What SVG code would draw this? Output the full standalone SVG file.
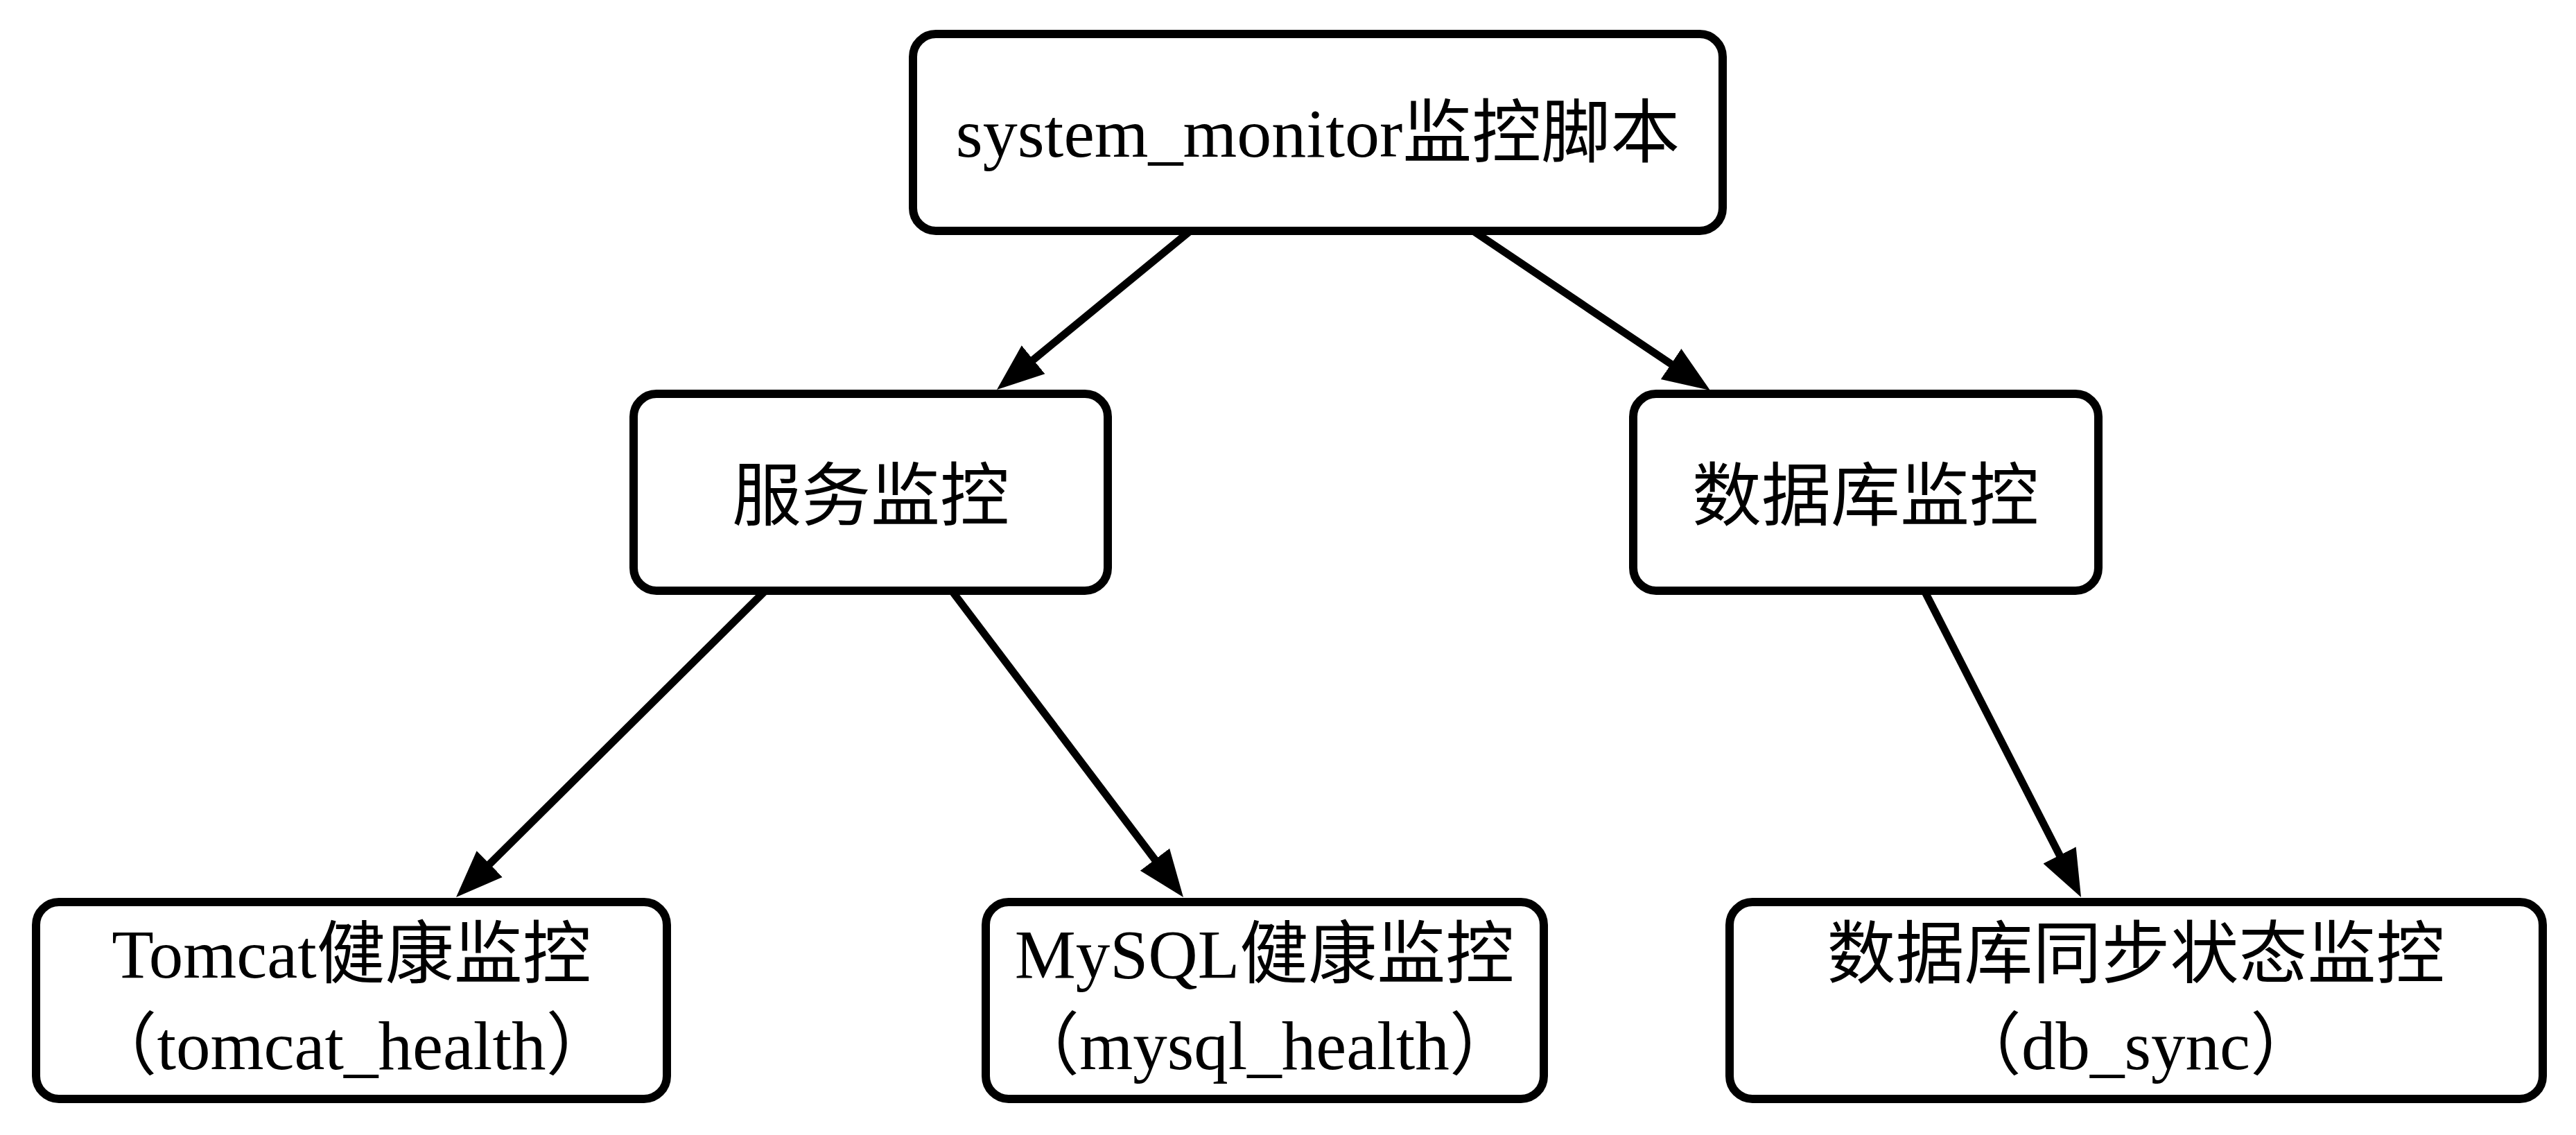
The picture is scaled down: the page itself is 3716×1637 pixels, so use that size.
<svg xmlns="http://www.w3.org/2000/svg" width="3716" height="1637" viewBox="0 0 3716 1637">
  <style>
    .box { fill: #ffffff; stroke: #000000; stroke-width: 12; }
    .edge { fill: none; stroke: #000000; stroke-width: 11; }
    .lbl { font-family: "Liberation Serif", "Noto Sans CJK SC", serif; fill: #000000; text-anchor: middle; }
    .big { font-size: 100px; }
    .small { font-size: 99px; }
  </style>
  <defs>
    <marker id="arrow" markerUnits="userSpaceOnUse" markerWidth="80" markerHeight="60" viewBox="0 -30 80 60" refX="8" refY="0" orient="auto">
      <path d="M0,-26.5 L68,0 L0,26.5 Z" fill="#000000"/>
    </marker>
  </defs>
  <rect width="3716" height="1637" fill="#ffffff"/>

  <g id="connectors">
    <line class="edge" x1="1717" y1="333" x2="1484.4" y2="523.9" marker-end="url(#arrow)"/>
    <line class="edge" x1="2125" y1="333" x2="2417.2" y2="529.5" marker-end="url(#arrow)"/>
    <line class="edge" x1="1104" y1="852" x2="700.6" y2="1251.8" marker-end="url(#arrow)"/>
    <line class="edge" x1="1373" y1="852" x2="1670.8" y2="1246.1" marker-end="url(#arrow)"/>
    <line class="edge" x1="2776" y1="852" x2="2974.7" y2="1240.6" marker-end="url(#arrow)"/>
  </g>

  <g id="node-root">
    <rect class="box" x="1317" y="49" width="1168" height="284" rx="33" ry="33"/>
    <text class="lbl big" x="1901" y="226">system_monitor监控脚本</text>
  </g>

  <g id="node-service">
    <rect class="box" x="914" y="568" width="684" height="284" rx="33" ry="33"/>
    <text class="lbl big" x="1256" y="750">服务监控</text>
  </g>

  <g id="node-database">
    <rect class="box" x="2356" y="568" width="671" height="284" rx="33" ry="33"/>
    <text class="lbl big" x="2691" y="750">数据库监控</text>
  </g>

  <g id="node-tomcat">
    <rect class="box" x="52" y="1301" width="910" height="284" rx="33" ry="33"/>
    <text class="lbl small" x="507" y="1410">Tomcat健康监控</text>
    <text class="lbl small" x="507" y="1542">（tomcat_health）</text>
  </g>

  <g id="node-mysql">
    <rect class="box" x="1422" y="1301" width="805" height="284" rx="33" ry="33"/>
    <text class="lbl small" x="1824" y="1410">MySQL健康监控</text>
    <text class="lbl small" x="1824" y="1542">（mysql_health）</text>
  </g>

  <g id="node-dbsync">
    <rect class="box" x="2495" y="1301" width="1173" height="284" rx="33" ry="33"/>
    <text class="lbl small" x="3081" y="1410">数据库同步状态监控</text>
    <text class="lbl small" x="3081" y="1542">（db_sync）</text>
  </g>
</svg>
